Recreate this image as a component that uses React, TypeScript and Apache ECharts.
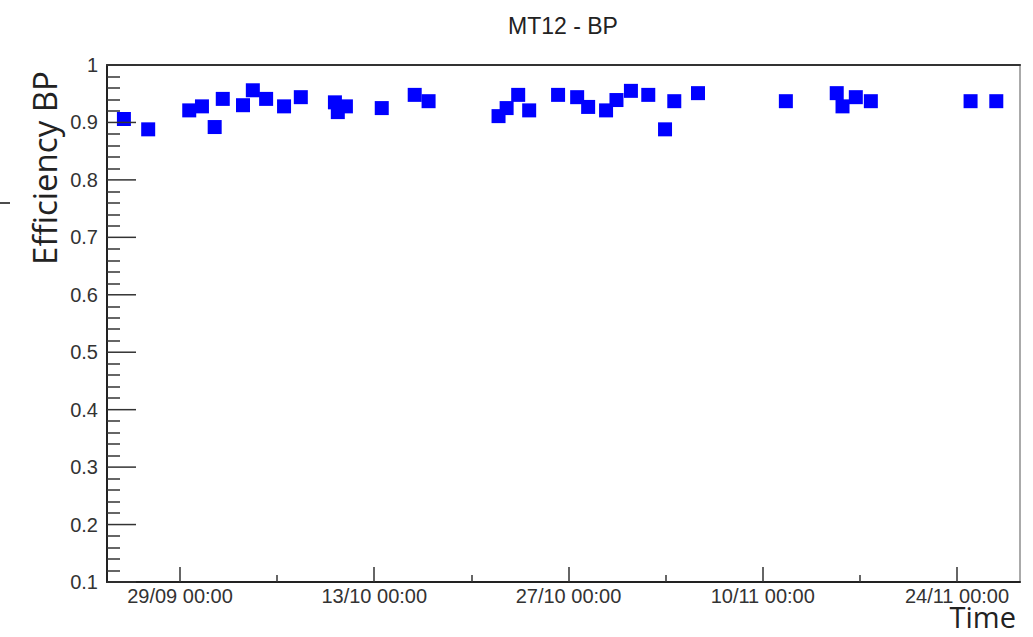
import React, { useEffect, useRef } from "react";
import * as echarts from "echarts";

const TITLE = "MT12 - BP";
const Y_NAME = "Efficiency BP";
const X_NAME = "Time";

// measurement times (local time) and efficiencies
const times: string[] = [
  "2017-09-24 23:00", "2017-09-26 17:00", "2017-09-29 16:00", "2017-09-30 14:00",
  "2017-10-01 12:00", "2017-10-02 02:00", "2017-10-03 13:00", "2017-10-04 06:00",
  "2017-10-05 05:00", "2017-10-06 12:00", "2017-10-07 17:00", "2017-10-10 04:00",
  "2017-10-10 09:00", "2017-10-10 23:00", "2017-10-13 13:00", "2017-10-15 22:00",
  "2017-10-16 22:00", "2017-10-21 23:00", "2017-10-22 13:00", "2017-10-23 09:00",
  "2017-10-24 04:00", "2017-10-26 06:00", "2017-10-27 15:00", "2017-10-28 10:00",
  "2017-10-29 17:00", "2017-10-30 11:00", "2017-10-31 12:00", "2017-11-01 18:00",
  "2017-11-02 23:00", "2017-11-03 15:00", "2017-11-05 08:00", "2017-11-11 16:00",
  "2017-11-15 08:00", "2017-11-15 18:00", "2017-11-16 17:00", "2017-11-17 19:00",
  "2017-11-24 23:30", "2017-11-26 20:00",
];
const efficiency: number[] = [
  0.906, 0.888, 0.921, 0.928,
  0.892, 0.941, 0.930, 0.956,
  0.941, 0.928, 0.944, 0.935,
  0.918, 0.928, 0.925, 0.948,
  0.937, 0.911, 0.925, 0.948,
  0.921, 0.948, 0.944, 0.927,
  0.921, 0.939, 0.955, 0.948,
  0.888, 0.937, 0.951, 0.937,
  0.951, 0.928, 0.944, 0.937,
  0.937, 0.937,
];

const xRange: string[] = ["2017-09-23 17:45", "2017-11-28 13:00"];
const majorTicks: string[] = [
  "2017-09-29 00:00", "2017-10-13 00:00", "2017-10-27 00:00", "2017-11-10 00:00", "2017-11-24 00:00",
];
const minorTicks: string[] = [
  "2017-10-06 00:00", "2017-10-20 00:00", "2017-11-03 00:00", "2017-11-17 00:00",
];
const yMin = 0.1;
const yMax = 1;
const yStep = 0.1;
const yMinorStep = 0.02;

function parseLocal(s: string): number {
  const [d, t] = s.split(" ");
  const [y, m, day] = d.split("-").map(Number);
  const [hh, mm] = t.split(":").map(Number);
  return new Date(y, m - 1, day, hh, mm).getTime();
}

function pad(n: number) {
  return n < 10 ? "0" + n : String(n);
}

export default function App() {
  const ref = useRef<HTMLDivElement>(null);
  useEffect(() => {
    if (!ref.current) return;
    const chart = echarts.init(ref.current, null, { renderer: "svg" });
    const xmin = parseLocal(xRange[0]);
    const xmax = parseLocal(xRange[1]);
    const data = times.map((t, i) => [parseLocal(t), efficiency[i]]);
    const labelFont = "Liberation Sans, Arial, sans-serif";
    const baseX = {
      type: "value",
      min: xmin,
      max: xmax,
      splitLine: { show: false },
    };
    const nMinor = Math.round((yMax - yMin) / yMinorStep);
    const yMinorValues: number[] = [];
    const yMajorValues: number[] = [];
    for (let i = 0; i <= nMinor; i++) {
      const v = +(yMin + i * yMinorStep).toFixed(4);
      if (i % 5 !== 0) yMinorValues.push(v);
      else yMajorValues.push(v);
    }
    const baseGraphic: any[] = [
      {
        id: "yname",
        type: "text",
        x: 44,
        y: 168,
        rotation: Math.PI / 2,
        style: {
          text: Y_NAME,
          font: "33px 'Open Sans', sans-serif",
          fill: "#222",
          align: "center",
          verticalAlign: "middle",
        },
      },
      {
        id: "xname",
        type: "text",
        x: 1016,
        y: 616,
        style: {
          text: X_NAME,
          font: "29px 'Open Sans', sans-serif",
          fill: "#222",
          align: "right",
          verticalAlign: "middle",
        },
      },
      {
        id: "stray",
        type: "line",
        shape: { x1: 0, y1: 203, x2: 10, y2: 203 },
        style: { stroke: "#111", lineWidth: 1.5 },
      },
    ];
    chart.setOption({
      animation: false,
      backgroundColor: "#ffffff",
      title: {
        text: TITLE,
        left: 558,
        top: 9,
        textAlign: "center",
        textStyle: { fontFamily: labelFont, fontSize: 23, fontWeight: "normal", color: "#222" },
      },
      grid: { left: 107, right: 13, top: 65, bottom: 55, containLabel: false },
      xAxis: [
        {
          ...baseX,
          position: "bottom",
          axisLine: { show: true, lineStyle: { color: "#222", width: 2 } },
          axisTick: {
            show: true,
            inside: true,
            length: 15,
            customValues: majorTicks.map(parseLocal),
            lineStyle: { color: "#333", width: 1.5 },
          },
          axisLabel: {
            show: true,
            customValues: majorTicks.map(parseLocal),
            formatter: (v: number) => {
              const d = new Date(v);
              return `${pad(d.getDate())}/${pad(d.getMonth() + 1)} ${pad(d.getHours())}:${pad(d.getMinutes())}`;
            },
            fontFamily: labelFont,
            fontSize: 20,
            color: "#333",
            margin: 4,
            hideOverlap: false,
          },
        },
        {
          ...baseX,
          position: "bottom",
          axisLine: { show: false },
          axisTick: {
            show: true,
            inside: true,
            length: 7,
            customValues: minorTicks.map(parseLocal),
            lineStyle: { color: "#333", width: 1.5 },
          },
          axisLabel: { show: false },
        },
        {
          ...baseX,
          position: "top",
          axisLine: { show: true, lineStyle: { color: "#333", width: 2 } },
          axisTick: { show: false },
          axisLabel: { show: false },
        },
      ],
      yAxis: [
        {
          type: "value",
          min: yMin,
          max: yMax,
          interval: yStep,
          position: "left",
          axisLine: { show: true, lineStyle: { color: "#222", width: 2 } },
          axisTick: { show: false },
          axisLabel: {
            formatter: (v: number) => (Math.abs(v - 1) < 1e-9 ? "1" : v.toFixed(1)),
            fontFamily: labelFont,
            fontSize: 20,
            color: "#333",
            margin: 9,
          },
          splitLine: { show: false },
        },
        {
          type: "value",
          min: yMin,
          max: yMax,
          position: "right",
          axisLine: { show: true, lineStyle: { color: "#aaa", width: 2 } },
          axisTick: { show: false },
          axisLabel: { show: false },
          splitLine: { show: false },
        },
        {
          type: "value",
          min: yMin,
          max: yMax,
          position: "left",
          axisLine: { show: false },
          axisTick: {
            show: true,
            inside: true,
            length: 13,
            customValues: yMinorValues,
            lineStyle: { color: "#333", width: 1.5 },
          },
          axisLabel: { show: false },
          splitLine: { show: false },
        },
      ],
      graphic: baseGraphic,
      series: [
        {
          type: "scatter",
          xAxisIndex: 0,
          yAxisIndex: 0,
          symbol: "rect",
          symbolSize: 14,
          itemStyle: { color: "#0000ff", opacity: 1 },
          data,
        },
      ],
    });
    // long major ticks on the y axis, placed through the axis scale
    const x0 = chart.convertToPixel({ xAxisIndex: 0 }, xmin) as number;
    const majorTickEls = yMajorValues.map((v, i) => {
      const y = chart.convertToPixel({ yAxisIndex: 0 }, v) as number;
      return {
        id: "ymajor" + i,
        type: "line",
        z: 5,
        shape: { x1: x0, y1: y, x2: x0 + 29, y2: y },
        style: { stroke: "#333", lineWidth: 1.5 },
      };
    });
    chart.setOption({ graphic: [...baseGraphic, ...majorTickEls] });
    return () => chart.dispose();
  }, []);
  return (
    <div
      ref={ref}
      style={{ position: "fixed", left: 0, top: 0, width: 1033, height: 637 }}
    />
  );
}
